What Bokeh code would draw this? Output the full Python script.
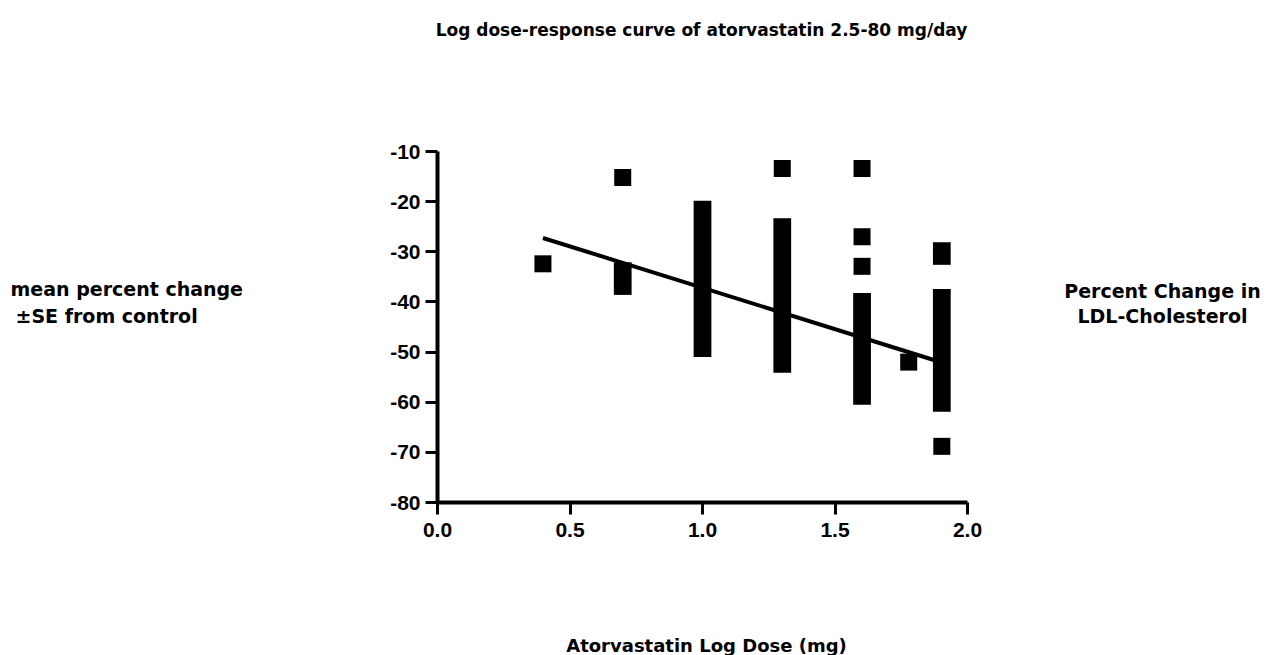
import numpy as np
from bokeh.plotting import figure
from bokeh.models import Range1d, FixedTicker, Label, LinearAxis, CustomJSTickFormatter
from bokeh.embed import file_html
from bokeh.resources import INLINE

# Daily doses (mg/day) and mean percent change in LDL-cholesterol
square_dose = [2.5, 5, 20, 40, 40, 40, 60, 80]
square_change = [-32.4, -15.2, -13.4, -13.4, -27.0, -32.9, -52.0, -68.8]

# Runs of overlapping study points (drawn as solid bands)
band_dose = [5, 10, 20, 40, 80, 80]
band_top = [-32.1, -19.8, -23.3, -38.2, -28.1, -37.4]
band_bottom = [-38.6, -51.0, -54.1, -60.5, -32.6, -61.9]

# Linear fit on log dose
fit_slope = -16.5
fit_intercept = -20.68
fit_dose = [2.5, 80]

x_ticks = [0.0, 0.5, 1.0, 1.5, 2.0]
y_ticks = [-80, -70, -60, -50, -40, -30, -20, -10]
x_bounds = (0.0, 2.0)
y_bounds = (-80, -10)

W, H = 1274, 655
# pixel box of the axes on the page
AX_LEFT, AX_RIGHT, AX_TOP, AX_BOTTOM = 437, 967, 151, 502

# data ranges that span the whole canvas so the axes sit at the box above
x_per_px = (x_bounds[1] - x_bounds[0]) / (AX_RIGHT - AX_LEFT)
y_per_px = (y_bounds[1] - y_bounds[0]) / (AX_BOTTOM - AX_TOP)
x_range = Range1d(x_bounds[0] - AX_LEFT * x_per_px,
                  x_bounds[1] + (W - AX_RIGHT) * x_per_px)
y_range = Range1d(y_bounds[0] - (H - AX_BOTTOM) * y_per_px,
                  y_bounds[1] + AX_TOP * y_per_px)

p = figure(width=W, height=H, output_backend="svg", toolbar_location=None,
           x_range=x_range, y_range=y_range,
           x_axis_location=None, y_axis_location=None, min_border=0)
p.outline_line_color = None
p.grid.visible = False
p.background_fill_color = "white"
p.border_fill_color = "white"

xaxis = LinearAxis(fixed_location=y_bounds[0], bounds=x_bounds,
                   ticker=FixedTicker(ticks=x_ticks),
                   formatter=CustomJSTickFormatter(code="return tick.toFixed(1);"))
yaxis = LinearAxis(fixed_location=x_bounds[0], bounds=y_bounds,
                   ticker=FixedTicker(ticks=y_ticks),
                   formatter=CustomJSTickFormatter(code="return tick.toFixed(0);"))
for ax in (xaxis, yaxis):
    ax.axis_line_width = 4
    ax.axis_line_color = "black"
    ax.major_tick_line_width = 3
    ax.major_tick_line_color = "black"
    ax.major_tick_in = 0
    ax.major_tick_out = 12
    ax.minor_tick_line_color = None
    ax.major_label_text_font = "Liberation Sans"
    ax.major_label_text_font_style = "bold"
    ax.major_label_text_color = "black"
xaxis.major_label_text_font_size = "21px"
yaxis.major_label_text_font_size = "21px"
xaxis.major_label_standoff = 8
yaxis.major_label_standoff = 5
p.add_layout(xaxis, "below")
p.add_layout(yaxis, "left")

band_x = np.log10(band_dose)
p.vbar(x=band_x, top=band_top, bottom=band_bottom, width=0.067,
       fill_color="black", line_color=None)

sq_x = np.log10(square_dose)
p.scatter(x=sq_x, y=square_change, marker="square", size=17,
          fill_color="black", line_color=None)

fx = np.log10(fit_dose)
p.line(x=fx, y=fit_intercept + fit_slope * fx, line_width=4, line_color="black")


def add_text(text, px, py, size, align="left"):
    # px, py: page pixels from the top-left corner
    p.add_layout(Label(x=px, y=H - py, x_units="screen", y_units="screen",
                       text=text, text_font="DejaVu Sans", text_font_style="bold",
                       text_font_size=size, text_align=align,
                       text_baseline="alphabetic", text_color="black"))


add_text("Log dose-response curve of atorvastatin 2.5-80 mg/day", 701, 29, "17px", "center")
add_text("mean percent change", 10, 288, "19px")
add_text("\u00b1SE from control", 15, 315, "19px")
add_text("Percent Change in", 1162, 290, "19px", "center")
add_text("LDL-Cholesterol", 1162, 315, "19px", "center")
add_text("Atorvastatin Log Dose (mg)", 706, 645, "18px", "center")

open("out.html", "w").write(file_html(p, INLINE))
